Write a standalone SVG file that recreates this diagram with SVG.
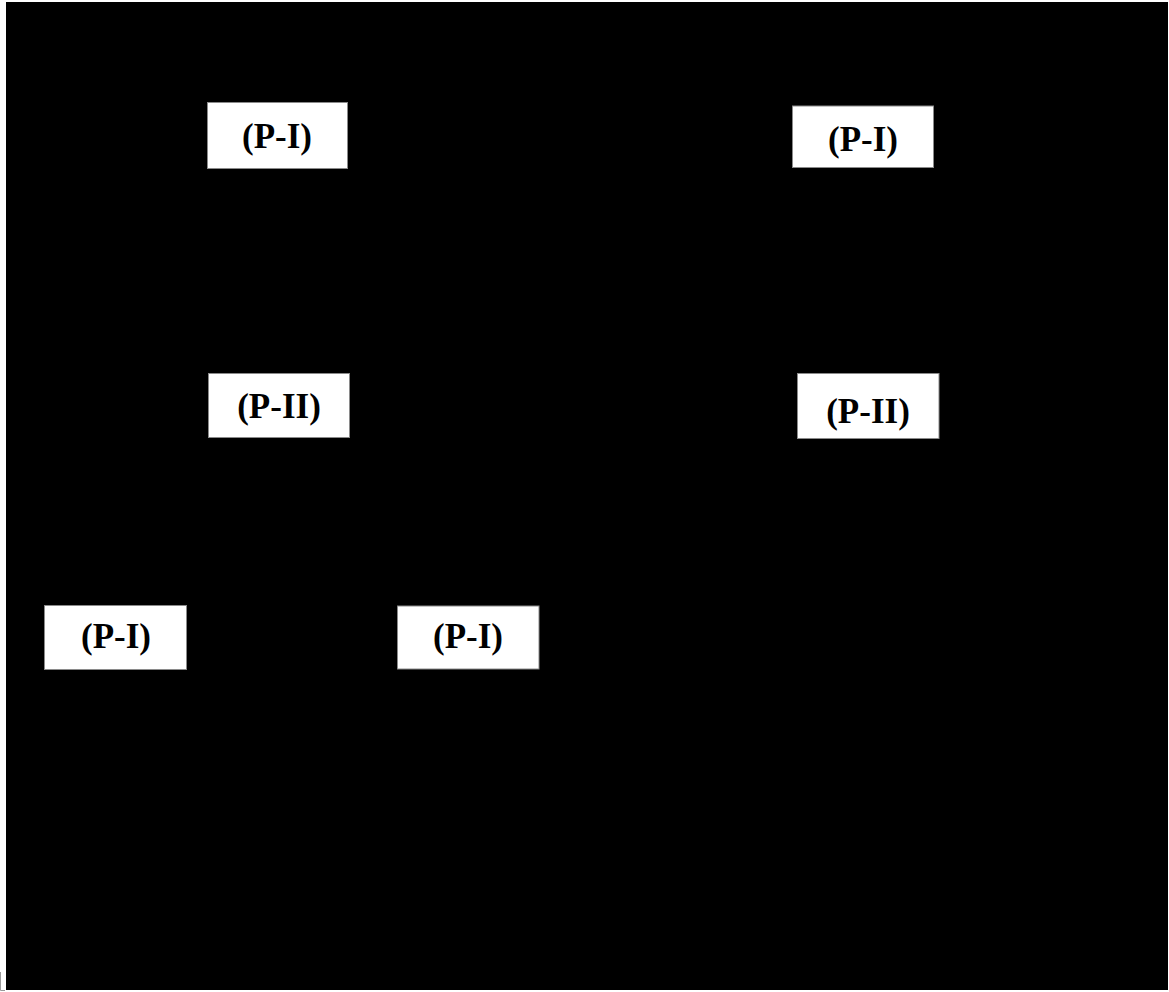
<svg xmlns="http://www.w3.org/2000/svg" width="1169" height="992" viewBox="0 0 1169 992">
<style>
.box{fill:#ffffff;stroke:#8a8a8a;stroke-width:1}
.lbl{font-family:"Liberation Serif","Times New Roman",serif;font-weight:bold;font-size:35px;fill:#000;text-anchor:middle}
</style>
<rect x="0" y="0" width="1169" height="992" fill="#ffffff"/>
<rect x="6" y="2" width="1162" height="988" fill="#000000"/>
<path d="M0.5 972 V990.5 H5" fill="none" stroke="#9a9a9a" stroke-width="1"/>
<g id="connectors"></g>
<g id="n1"><rect class="box" x="207.5" y="102.5" width="140" height="66"/><text class="lbl" x="277" y="148">(P-I)</text></g>
<g id="n2"><rect class="box" x="792.5" y="106" width="141" height="61.5"/><text class="lbl" x="863" y="151">(P-I)</text></g>
<g id="n3"><rect class="box" x="208.5" y="373.5" width="141" height="64"/><text class="lbl" x="279" y="418">(P-II)</text></g>
<g id="n4"><rect class="box" x="797.5" y="373.5" width="141.5" height="65"/><text class="lbl" x="868" y="423">(P-II)</text></g>
<g id="n5"><rect class="box" x="44.5" y="605.5" width="142" height="64"/><text class="lbl" x="116" y="648">(P-I)</text></g>
<g id="n6"><rect class="box" x="397.5" y="606" width="141.5" height="63"/><text class="lbl" x="468" y="648">(P-I)</text></g>
</svg>
